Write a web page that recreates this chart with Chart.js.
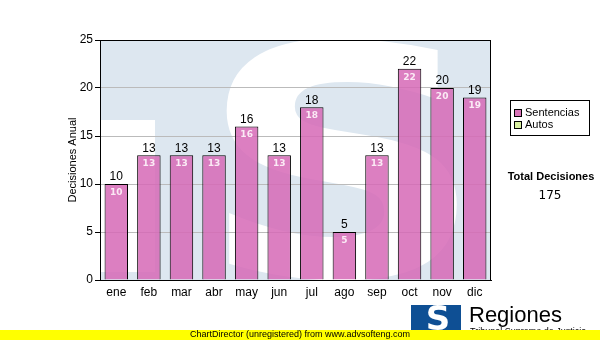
<!DOCTYPE html>
<html><head><meta charset="utf-8">
<script src="https://cdn.jsdelivr.net/npm/chart.js@4"></script>
<style>html,body{margin:0;padding:0;background:#fff}canvas{display:block}</style>
</head><body>
<canvas id="c" width="600" height="340"></canvas>
<script>
const categories = ['ene','feb','mar','abr','may','jun','jul','ago','sep','oct','nov','dic'];
const sentencias = [10,13,13,13,16,13,18,5,13,22,20,19];
const yTicks = [0,5,10,15,20,25];
const legendLabels = ['Sentencias','Autos'];
const totalLabel = 'Total Decisiones';
const totalValue = '175';

const bgPlugin = {
  id:'bg',
  beforeDraw(chart){
    const {ctx, chartArea:a} = chart;
    ctx.save();
    ctx.fillStyle='#dde7f0';
    ctx.fillRect(a.left,a.top,a.right-a.left,a.bottom-a.top);
    ctx.beginPath(); ctx.rect(a.left,a.top,a.right-a.left,a.bottom-a.top); ctx.clip();
    ctx.fillStyle='#ffffff';
    ctx.fillRect(a.left,120,55,152);
    ctx.translate(342,276);
    ctx.scale(1.25,1);
    ctx.font='bold 320px "DejaVu Sans"';
    ctx.textAlign='center'; ctx.textBaseline='alphabetic';
    ctx.fillText('S', 0, 0);
    ctx.restore();
  },
  afterDatasetsDraw(chart){
    const {ctx, chartArea:a} = chart;
    ctx.save();
    ctx.strokeStyle='#000'; ctx.lineWidth=1;
    ctx.strokeRect(a.left+0.5,a.top+0.5,a.right-a.left-1,a.bottom-a.top);
    const meta = chart.getDatasetMeta(0);
    meta.data.forEach((bar,i)=>{
      const v = sentencias[i];
      ctx.textAlign='center';
      ctx.fillStyle='#000'; ctx.font='12px Arial'; ctx.textBaseline='bottom';
      ctx.fillText(String(v), bar.x, bar.y-1);
      ctx.fillStyle='#fbeaf5'; ctx.font='bold 9px "DejaVu Sans"'; ctx.textBaseline='top';
      ctx.fillText(String(v), bar.x, bar.y+4);
    });
    // y title
    ctx.save();
    ctx.translate(73,(a.top+a.bottom)/2);
    ctx.rotate(-Math.PI/2);
    ctx.fillStyle='#000'; ctx.font='11px Arial'; ctx.textAlign='center'; ctx.textBaseline='middle';
    ctx.fillText('Decisiones Anual',0,0);
    ctx.restore();
    // legend
    ctx.fillStyle='#fff'; ctx.fillRect(510,100,80,35);
    ctx.strokeStyle='#000'; ctx.strokeRect(510.5,100.5,79,35);
    const cols=['#d873b8','#d8f0a0'];
    legendLabels.forEach((l,i)=>{
      const y=113+i*12;
      ctx.fillStyle=cols[i]; ctx.fillRect(514,y-4,7,7);
      ctx.strokeStyle='#000'; ctx.strokeRect(514.5,y-3.5,7,7);
      ctx.fillStyle='#000'; ctx.font='11px Arial'; ctx.textAlign='left'; ctx.textBaseline='middle';
      ctx.fillText(l,525,y);
    });
    ctx.font='bold 11px "Liberation Sans"'; ctx.textAlign='center';
    ctx.fillText(totalLabel,551,177);
    ctx.font='12px "DejaVu Sans"';
    ctx.fillText(totalValue,550,196);
    // logo
    ctx.fillStyle='#0e4f94';
    ctx.fillRect(411,305,50,28);
    ctx.fillStyle='#fff'; ctx.font='bold 34px "DejaVu Sans"'; ctx.textAlign='center'; ctx.textBaseline='middle';
    ctx.fillText('S',438,321);
    ctx.fillStyle='#000'; ctx.font='22px Arial'; ctx.textAlign='left'; ctx.textBaseline='alphabetic';
    ctx.fillText('Regiones',469,322);
    ctx.font='9px Arial';
    ctx.fillText('Tribunal Supremo de Justicia',470,334);
    // yellow band
    ctx.fillStyle='#ffff00'; ctx.fillRect(0,330,600,10);
    ctx.fillStyle='#000'; ctx.font='9px Arial'; ctx.textAlign='center'; ctx.textBaseline='middle';
    ctx.fillText('ChartDirector (unregistered) from www.advsofteng.com',300,335);
    ctx.restore();
  }
};

new Chart(document.getElementById('c'),{
  type:'bar',
  data:{labels:categories,datasets:[{label:legendLabels[0],data:sentencias,
    backgroundColor:'rgba(214,104,182,0.85)',borderColor:'#000',borderWidth:1,
    barPercentage:0.72,categoryPercentage:1}]},
  options:{
    responsive:false,animation:false,
    layout:{padding:{left:0,right:109,top:40,bottom:40}},
    plugins:{legend:{display:false},tooltip:{enabled:false}},
    scales:{
      x:{grid:{display:false,drawTicks:true,tickLength:5,tickColor:'#000'},
         border:{color:'#000'},
         ticks:{color:'#000',font:{family:'Arial',size:12},padding:0},
         afterFit(s){s.height=20;}},
      y:{min:0,max:25,
         afterBuildTicks(s){s.ticks=yTicks.map(v=>({value:v}));},
         grid:{color:'#bbbbbb',tickLength:5,tickColor:'#000'},
         border:{color:'#000'},
         ticks:{color:'#000',font:{family:'Arial',size:12},padding:2},
         afterFit(s){s.width=100;}}
    }
  },
  plugins:[bgPlugin]
});
</script>
</body></html>
